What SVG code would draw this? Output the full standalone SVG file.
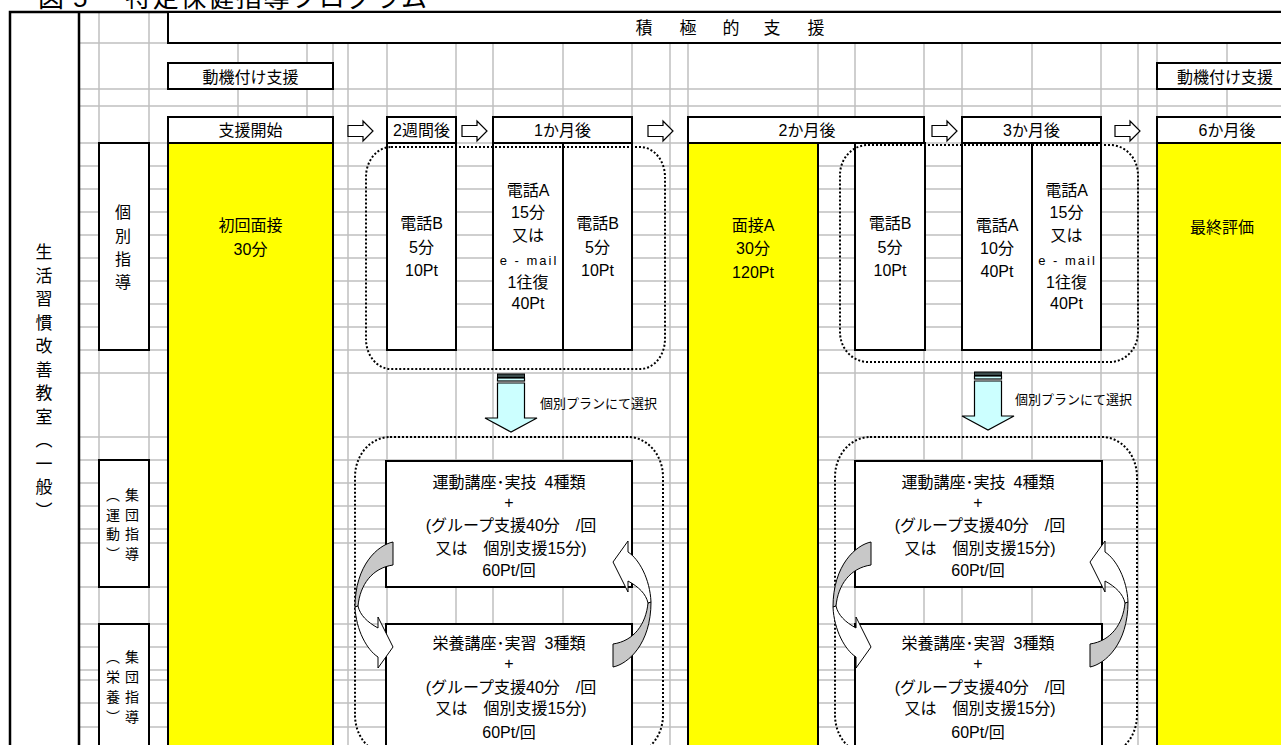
<svg xmlns="http://www.w3.org/2000/svg" width="1281" height="745" viewBox="0 0 1281 745">
<defs>
<style>
.g{fill:none;stroke:#c0c0c0;stroke-width:1.5}
.b{fill:#fff;stroke:#000;stroke-width:2}
.y{fill:#ffff00;stroke:#000;stroke-width:2}
.d{fill:none;stroke:#000;stroke-width:2;stroke-dasharray:2 2}
.k{fill:none;stroke:#000;stroke-width:2.5}
text{font-family:"Liberation Sans","Noto Sans CJK JP",sans-serif;font-size:16px;fill:#000;text-anchor:middle}
.s{font-size:13px}
.l{text-anchor:start}
.m{font-size:13px;letter-spacing:2px}
.ha{fill:#fff;stroke:#000;stroke-width:1.2}
.dc{fill:#ccffff;stroke:#000;stroke-width:1.2}
.cg{fill:#c8c8c8;stroke:#000;stroke-width:1}
.cw{fill:#fff;stroke:#000;stroke-width:1}
</style>
<path id="ha" class="ha" d="M0,-5.5 H15 V-10 L25,0 L15,10 V5.5 H0 Z"/>
<g id="ca">
<path class="cg" d="M18,-63 C3,-60 -20,-40 -20,2 L-17,1 C-15,-20 -3,-37 18,-40 Z"/>
<path class="cw" d="M-20,2 C-19,25 -8,45 3,52 L3,63 L18,42 L3,12 L3,23 C-8,17 -15,10 -17,1 Z"/>
</g>
<g id="da">
<rect x="-13.5" y="-58" width="27" height="3.5" fill="#3a4a4a" stroke="#000" stroke-width="1"/>
<rect x="-13.5" y="-54" width="27" height="3" class="dc"/>
<path class="dc" d="M-13.5,-49 H13.5 V-14 H26 L0,0 L-26,-14 H-13.5 Z"/>
</g>
</defs>
<rect width="1281" height="745" fill="#fff"/>
<text x="38 73" y="7" style="font-size:26px" class="l">図5</text>
<text x="125" y="7" style="font-size:26px" class="l" textLength="302" lengthAdjust="spacing">特定保健指導プログラム</text>
<g id="grid">
<path class="g" d="M99,12V745M149,12V745M238,12V745M307,12V745M333,12V745M348,12V745M387,12V745M456,12V745M493,12V745M563,12V745M632,12V745M670,12V745M688,12V745M818,12V745M855,12V745M924,12V745M962,12V745M1032,12V745M1101,12V745M1138,12V745M1157,12V745M1227,12V745"/>
<path class="g" d="M79,43H1281M79,89H1281M79,106H1281M79,143H1281M79,166H1281M79,189H1281M79,212H1281M79,235H1281M79,258H1281M79,281H1281M79,304H1281M79,327H1281M79,350H1281M79,373H1281M79,437H1281M79,460H1281M79,483H1281M79,506H1281M79,529H1281M79,543H1281M79,587H1281M79,624H1281M79,647H1281M79,670H1281M79,680H1281M79,703H1281M79,727H1281"/>
</g>
<g id="frame">
<path class="k" d="M10,750V12H1281M79,12V750"/>
</g>
<g id="col-seikatsu">
<text x="44 44 44 44 44 44 44 44 44 44 44 44" y="258 281.5 305 328.5 352 375.5 399 422.5 446 469.5 493 516.5" style="font-size:17px">生活習慣改善教室︵一般︶</text>
</g>
<g id="sekkyoku">
<rect class="b" x="168" y="12" width="1125" height="31"/>
<text x="644 688 731 772 816" y="34" style="font-size:17px">積極的支援</text>
</g>
<g id="doki1"><rect class="b" x="168" y="63" width="165" height="26"/><text x="250.5" y="83">動機付け支援</text></g>
<g id="doki2"><rect class="b" x="1157" y="63" width="140" height="26"/><text x="1225" y="83">動機付け支援</text></g>
<g id="h-start"><rect class="b" x="168" y="117" width="165" height="26"/><text x="250.5" y="136">支援開始</text></g>
<g id="h-2w"><rect class="b" x="387" y="117" width="69" height="26"/><text x="421.5" y="136">2週間後</text></g>
<g id="h-1m"><rect class="b" x="493" y="117" width="139" height="26"/><text x="562.5" y="136">1か月後</text></g>
<g id="h-2m"><rect class="b" x="688" y="117" width="236" height="26"/><text x="807" y="136">2か月後</text></g>
<g id="h-3m"><rect class="b" x="962" y="117" width="139" height="26"/><text x="1031.5" y="136">3か月後</text></g>
<g id="h-6m"><rect class="b" x="1157" y="117" width="140" height="26"/><text x="1227" y="136">6か月後</text></g>
<g id="kobetsu"><rect class="b" x="99" y="143" width="50" height="207"/>
<text x="123 123 123 123" y="218 242 265 288">個別指導</text></g>
<g id="undo"><rect class="b" x="99" y="460" width="50" height="127"/>
<text x="132 132 132 132 113 113 113 113" y="500 519.5 539 558.5 500 519.5 539 558.5" style="font-size:14px">集団指導︵運動︶</text></g>
<g id="eiyo"><rect class="b" x="99" y="624" width="50" height="130"/>
<text x="132 132 132 132 113 113 113 113" y="662 682 702 722 662 682 702 722" style="font-size:14px">集団指導︵栄養︶</text></g>
<g id="shokai"><rect class="y" x="168" y="143" width="165" height="610"/>
<text x="250.5" y="231">初回面接</text><text x="250.5" y="255">30分</text></g>
<g id="mensetsuA"><rect class="y" x="688" y="143" width="130" height="610"/>
<text x="753" y="231">面接A</text><text x="753" y="254">30分</text><text x="753" y="278">120Pt</text></g>
<g id="saishu"><rect class="y" x="1157" y="143" width="140" height="610"/>
<text x="1222" y="233">最終評価</text></g>
<g id="tel1"><rect class="b" x="387" y="143" width="69" height="207"/>
<text x="421.5" y="229">電話B</text><text x="421.5" y="253">5分</text><text x="421.5" y="276">10Pt</text></g>
<g id="tel2"><rect class="b" x="493" y="143" width="70" height="207"/>
<text x="528" y="196">電話A</text><text x="528" y="218">15分</text><text x="528" y="241">又は</text><text x="529" y="265" class="m">e - mail</text><text x="528" y="288">1往復</text><text x="528" y="309">40Pt</text></g>
<g id="tel3"><rect class="b" x="563" y="143" width="69" height="207"/>
<text x="597.5" y="229">電話B</text><text x="597.5" y="253">5分</text><text x="597.5" y="276">10Pt</text></g>
<g id="tel4"><rect class="b" x="855" y="143" width="70" height="207"/>
<text x="890" y="229">電話B</text><text x="890" y="253">5分</text><text x="890" y="276">10Pt</text></g>
<g id="tel5"><rect class="b" x="962" y="143" width="70" height="207"/>
<text x="997" y="231">電話A</text><text x="997" y="254">10分</text><text x="997" y="277">40Pt</text></g>
<g id="tel6"><rect class="b" x="1032" y="143" width="69" height="207"/>
<text x="1066.5" y="196">電話A</text><text x="1066.5" y="218">15分</text><text x="1066.5" y="241">又は</text><text x="1067.5" y="265" class="m">e - mail</text><text x="1066.5" y="288">1往復</text><text x="1066.5" y="309">40Pt</text></g>
<g id="grp1-undo"><rect class="b" x="386" y="461" width="246" height="126"/>
<text x="509" y="488">運動講座･実技&#8194;4種類</text><text x="509" y="508">+</text><text x="511" y="531">(グループ支援40分　/回</text><text x="511" y="554">又は　個別支援15分)</text><text x="509" y="576">60Pt/回</text></g>
<g id="grp1-eiyo"><rect class="b" x="386" y="624" width="246" height="130"/>
<text x="509" y="649">栄養講座･実習&#8194;3種類</text><text x="509" y="669">+</text><text x="511" y="693">(グループ支援40分　/回</text><text x="511" y="714">又は　個別支援15分)</text><text x="509" y="738">60Pt/回</text></g>
<g id="grp2-undo"><rect class="b" x="855" y="461" width="247" height="126"/>
<text x="978" y="488">運動講座･実技&#8194;4種類</text><text x="978" y="508">+</text><text x="980" y="531">(グループ支援40分　/回</text><text x="980" y="554">又は　個別支援15分)</text><text x="978" y="576">60Pt/回</text></g>
<g id="grp2-eiyo"><rect class="b" x="855" y="624" width="247" height="130"/>
<text x="978" y="649">栄養講座･実習&#8194;3種類</text><text x="978" y="669">+</text><text x="980" y="693">(グループ支援40分　/回</text><text x="980" y="714">又は　個別支援15分)</text><text x="978" y="738">60Pt/回</text></g>
<g id="choice1"><rect class="d" x="366" y="147" width="299" height="222" rx="25" ry="30"/></g>
<g id="choice2"><rect class="d" x="840" y="145" width="298" height="217" rx="28" ry="30"/></g>
<g id="group1"><rect class="d" x="355" y="437" width="308" height="318" rx="35" ry="40"/></g>
<g id="group2"><rect class="d" x="835" y="437" width="302" height="318" rx="35" ry="40"/></g>
<g id="connectors">
<use href="#ha" x="348" y="131"/>
<use href="#ha" x="462" y="131"/>
<use href="#ha" x="648" y="131"/>
<use href="#ha" x="932" y="131"/>
<use href="#ha" x="1115" y="131"/>
<use href="#da" x="511" y="432"/>
<use href="#da" x="988" y="430"/>
<text x="540" y="408" class="s l">個別プランにて選択</text>
<text x="1015" y="404" class="s l">個別プランにて選択</text>
<use href="#ca" transform="translate(375,605)"/>
<use href="#ca" transform="translate(631,604) rotate(180)"/>
<use href="#ca" transform="translate(853,605)"/>
<use href="#ca" transform="translate(1108,604) rotate(180)"/>
</g>
</svg>
